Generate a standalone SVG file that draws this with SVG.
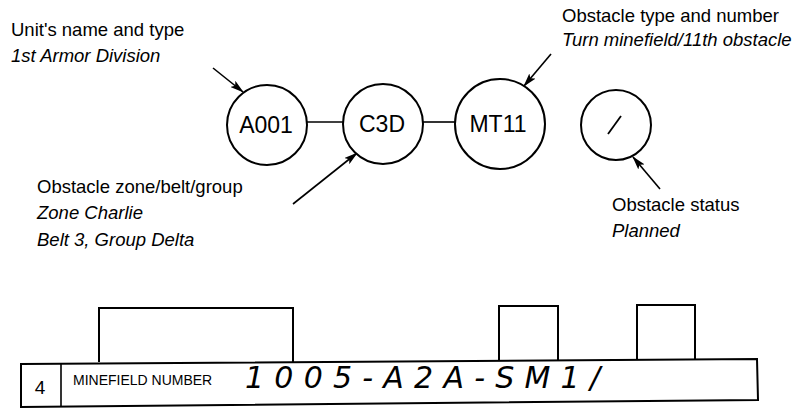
<svg xmlns="http://www.w3.org/2000/svg" width="806" height="408" viewBox="0 0 806 408">
<style>
text{font-family:"Liberation Sans",Arial,sans-serif;fill:#000}
.lbl{font-size:18.5px}
.it{font-size:18.5px;font-style:italic}
.node{font-size:23px;text-anchor:middle}
circle{fill:#fff;stroke:#000;stroke-width:2}
.conn{stroke:#000;stroke-width:1.6;fill:none}
.arr{stroke:#000;stroke-width:1.6;fill:none;marker-end:url(#ah)}
.box{fill:none;stroke:#000;stroke-width:2}
</style>
<defs>
<marker id="ah" viewBox="0 0 14 8" refX="13" refY="4" markerWidth="14" markerHeight="8" markerUnits="userSpaceOnUse" orient="auto">
<path d="M0,0 L14,4 L0,8 L3,4 Z" fill="#000"/>
</marker>
</defs>

<g id="label-unit">
<text class="lbl" x="11" y="36">Unit's name and type</text>
<text class="it" x="11" y="62">1st Armor Division</text>
</g>
<g id="label-type">
<text class="lbl" x="562" y="22">Obstacle type and number</text>
<text class="it" x="562" y="46">Turn minefield/11th obstacle</text>
</g>
<g id="label-zone">
<text class="lbl" x="37" y="193">Obstacle zone/belt/group</text>
<text class="it" x="37" y="219">Zone Charlie</text>
<text class="it" x="37" y="246">Belt 3, Group Delta</text>
</g>
<g id="label-status">
<text class="lbl" x="612" y="211">Obstacle status</text>
<text class="it" x="612" y="237">Planned</text>
</g>

<g id="connectors">
<line class="conn" x1="307" y1="122" x2="343" y2="122"/>
<line class="conn" x1="423" y1="122" x2="455" y2="122"/>
<line class="arr" x1="213" y1="68" x2="243" y2="92"/>
<line class="arr" x1="293" y1="204" x2="357" y2="153"/>
<line class="arr" x1="551" y1="54" x2="524" y2="86"/>
<line class="arr" x1="660" y1="189" x2="633" y2="157"/>
</g>

<g id="node-A001">
<circle cx="267" cy="125" r="40"/>
<text class="node" x="266" y="133">A001</text>
</g>
<g id="node-C3D">
<circle cx="383" cy="124" r="40"/>
<text class="node" x="382" y="132">C3D</text>
</g>
<g id="node-MT11">
<circle cx="500" cy="124" r="45"/>
<text class="node" x="498" y="132">MT11</text>
</g>
<g id="node-status">
<circle cx="616" cy="125" r="35"/>
<line x1="608" y1="134" x2="621" y2="116" stroke="#000" stroke-width="1.8"/>
</g>

<g id="minefield-strip">
<path class="box" d="M99,362 V308 H293 V362"/>
<path class="box" d="M499,360 V306 H558 V360"/>
<path class="box" d="M637,360 V305 H695 V360"/>
<path class="box" d="M21,364 L757,359 L758,400 L21,407 Z"/>
<line x1="61" y1="364" x2="61" y2="407" stroke="#000" stroke-width="1.6"/>
<text x="40" y="394" font-size="19" text-anchor="middle">4</text>
<text x="73" y="385" font-size="14">MINEFIELD NUMBER</text>
<text x="245" y="388" font-size="30" font-style="italic" style="font-family:'DejaVu Sans',sans-serif" textLength="355" lengthAdjust="spacing">1005-A2A-SM1/</text>
</g>
</svg>
